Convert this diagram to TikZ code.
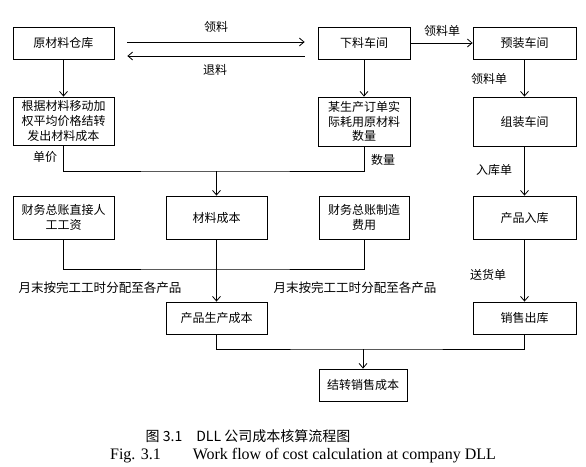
\documentclass[tikz,border=0pt]{standalone}
\usepackage{fontspec}
\setmainfont{Liberation Serif}
\newfontfamily\cjk{Noto Sans CJK SC}
\usetikzlibrary{arrows.meta}
\begin{document}
\begin{tikzpicture}[x=0.75pt,y=-0.75pt,
  every node/.style={font=\cjk\fontsize{9pt}{11pt}\selectfont},
  box/.style={draw, line width=0.6pt, inner sep=1pt, align=center},
  ln/.style={line width=0.6pt},
  arr/.style={line width=0.6pt,-{Straight Barb[length=3.5pt,width=6pt]}},
  lbl/.style={inner sep=0pt},
  big/.style={inner sep=0pt,font=\cjk\fontsize{9.4pt}{12pt}\selectfont}]
\useasboundingbox (0,0) rectangle (586,467);
% nodes
\node[box,minimum width=75.75pt,minimum height=24pt] (yl) at (63.5,43) {原材料仓库};
\node[box,minimum width=75.75pt,minimum height=36pt] (gj) at (63.5,121) {根据材料移动加\\权平均价格结转\\发出材料成本};
\node[box,minimum width=69pt,minimum height=24pt] (xl) at (364,43) {下料车间};
\node[box,minimum width=69pt,minimum height=36.75pt] (sl) at (364,121.5) {某生产订单实\\际耗用原材料\\数量};
\node[box,minimum width=77.25pt,minimum height=24pt] (yz) at (524.5,43) {预装车间};
\node[box,minimum width=77.25pt,minimum height=36.75pt] (zz) at (524.5,121.5) {组装车间};
\node[box,minimum width=75.75pt,minimum height=32.25pt] (rg) at (63.5,217.5) {财务总账直接人\\工工资};
\node[box,minimum width=75.75pt,minimum height=32.25pt] (cl) at (216.5,217.5) {材料成本};
\node[box,minimum width=67.5pt,minimum height=32.25pt] (zf) at (364,217.5) {财务总账制造\\费用};
\node[box,minimum width=77.25pt,minimum height=32.25pt] (rk) at (524.5,217.5) {产品入库};
\node[box,minimum width=75.75pt,minimum height=24pt] (sc) at (216.5,318) {产品生产成本};
\node[box,minimum width=77.25pt,minimum height=24pt] (xs) at (524.5,318) {销售出库};
\node[box,minimum width=66pt,minimum height=24pt] (jz) at (363,385) {结转销售成本};
% coordinates
\coordinate (m1) at (216.5,171);
\coordinate (m2) at (216.5,269);
\coordinate (m3) at (363,349);
% connectors
\draw[arr] ([xshift=9.75pt,yshift=0.75pt]yl.east) -- ([xshift=-9.75pt,yshift=0.75pt]xl.west);
\draw[arr] ([xshift=-9.75pt,yshift=-9.75pt]xl.west) -- ([xshift=9.75pt,yshift=-9.75pt]yl.east);
\draw[arr] (xl) -- (yz);
\draw[arr] (yl) -- (gj);
\draw[arr] (xl) -- (sl);
\draw[arr] (yz) -- (zz);
\draw[arr] (zz) -- (rk);
\draw[arr] (rk) -- (xs);
\draw[ln] (gj.south) |- (m1) -| (sl.south);
\draw[arr] (m1) -- (cl.north);
\draw[ln] (rg.south) |- (m2) -| (zf.south);
\draw[arr] (cl) -- (sc);
\draw[ln] (sc.south) |- (m3) -| (xs.south);
\draw[arr] (m3) -- (jz.north);
% labels
\node[lbl] (t1) at (216,27) {领料};
\node[lbl] (t2) at (215,70) {退料};
\node[lbl] (t3) at (442,31) {领料单};
\node[lbl] (t4) at (45,157) {单价};
\node[lbl] (t5) at (383,160) {数量};
\node[lbl] (t6) at (489,79) {领料单};
\node[lbl] (t7) at (494,170) {入库单};
\node[lbl] (t8) at (488,275) {送货单};
\node[big] (t9) at (100,288) {月末按完工工时分配至各产品};
\node[big] (t10) at (355,288) {月末按完工工时分配至各产品};
% caption
\node[inner sep=0pt,font=\cjk\fontsize{10.5pt}{12pt}\selectfont] (c1) at (248,436) {图 3.1\quad DLL 公司成本核算流程图};
\node[inner sep=0pt,font=\rmfamily\fontsize{12pt}{14pt}\selectfont] (c2) at (303,456) {Fig. 3.1\qquad Work flow of cost calculation at company DLL};
\end{tikzpicture}
\end{document}
